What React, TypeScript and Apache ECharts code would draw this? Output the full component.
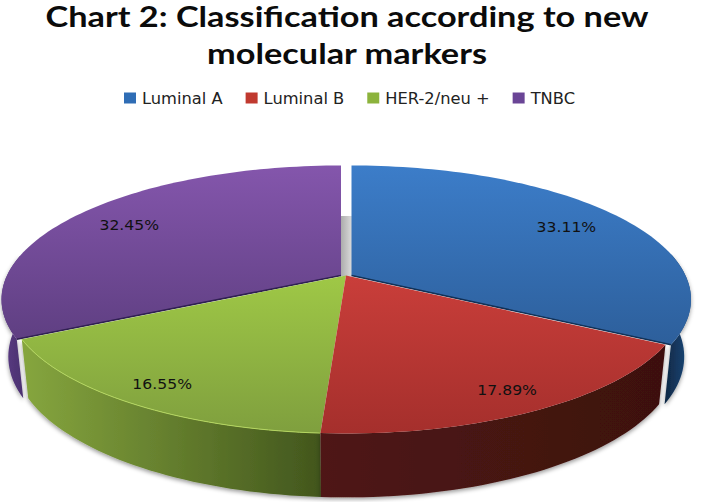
import React, { useEffect, useRef } from "react";
import * as echarts from "echarts";

const titleLines = ["Chart 2: Classification according to new", "molecular markers"];
const categories = ["Luminal A", "Luminal B", "HER-2/neu +", "TNBC"];
const shareValues = [33.11, 17.89, 16.55, 32.45];

const legendColors = ["#2f6db5", "#c0392f", "#8cb33c", "#6a4596"];
const topColors = [
  ["#3c7dc9", "#2d5f9b"],
  ["#c93e3a", "#a52f2c"],
  ["#9fc846", "#7f9f3e"],
  ["#8456ac", "#5f3f82"],
];
const wallColors = [
  ["#1d4a7e", "#0e2743"],
  ["#4f1614", "#3d110f"],
  ["#86a63e", "#42561d"],
  ["#5a3c84", "#49306d"],
];
const edgeColors = ["#123055", "#7e2320", "#b4d65f", "#2f2050"];
const explode = [5.5, 0, 0, -5];

const CX = 346, CY = 275.5, RX = 334, RY = 129.7, K = 0.179;
const WALL_X = 0.98, WALL_Y = 1.05, WALL_D = 56;

function project(thetaDeg: number, r = 1): [number, number] {
  const t = (thetaDeg * Math.PI) / 180;
  const u = r * Math.sin(t);
  const v = -r * Math.cos(t);
  const d = 1 - K * v;
  return [(RX * u) / d, (RY * v) / d];
}
function arc(a: number, b: number): number[] {
  const out: number[] = [];
  const n = Math.max(2, Math.ceil(Math.abs(b - a) / 1.5));
  for (let i = 0; i <= n; i++) out.push(a + ((b - a) * i) / n);
  return out;
}
const total = shareValues.reduce((s, v) => s + v, 0);
const starts = shareValues.map((_, i) =>
  (shareValues.slice(0, i).reduce((s, v) => s + v, 0) / total) * 360
);

function renderSlice(i: number) {
  const start = starts[i];
  const end = start + (shareValues[i] / total) * 360;
  const cx = CX + explode[i];
  const top = (p: [number, number]): number[] => [cx + p[0], CY + p[1]];
  const bottom = (p: [number, number]): number[] => [
    cx + WALL_X * p[0],
    CY + WALL_D + WALL_Y * p[1],
  ];
  const ring = arc(start, end);
  const topEdge = ring.map((a) => top(project(a)));
  const wallAngles = ring.filter((a) => a >= 80 && a <= 280);
  const children: any[] = [];
  if (i === 3) {
    const back = bottom(project(0));
    children.push({
      type: "polygon",
      shape: { points: [[CX - 6, back[1]], [CX + 6, back[1]], [CX + 6, CY + 1], [CX - 6, CY + 1]] },
      style: {
        fill: new echarts.graphic.LinearGradient(0, 0, 1, 0, [
          { offset: 0, color: "#a8a8a8" },
          { offset: 0.55, color: "#c4c4c4" },
          { offset: 1, color: "#dcdcdc" },
        ]),
      },
    });
  }
  if (wallAngles.length > 1) {
    const pts = [
      ...wallAngles.map((a) => top(project(a))),
      ...wallAngles.slice().reverse().map((a) => bottom(project(a))),
    ];
    children.push({
      type: "polygon",
      shape: { points: pts },
      style: {
        fill: new echarts.graphic.LinearGradient(0, 0, 1, 0, [
          { offset: 0, color: i === 0 ? wallColors[i][1] : wallColors[i][0] },
          { offset: 1, color: i === 0 ? wallColors[i][0] : wallColors[i][1] },
        ]),
        shadowBlur: 4,
        shadowColor: "rgba(0,0,0,0.4)",
        shadowOffsetY: 2,
      },
    });
  }
  const apex = [cx, CY];
  children.push({
    type: "polygon",
    shape: { points: [apex, ...topEdge] },
    style: {
      fill: new echarts.graphic.LinearGradient(0, 0, 0, 1, [
        { offset: 0, color: topColors[i][0] },
        { offset: 1, color: topColors[i][1] },
      ]),
    },
  });
  if (i === 0 || i === 3) {
    const tip = i === 0 ? topEdge[topEdge.length - 1] : topEdge[0];
    children.push({
      type: "line",
      shape: { x1: apex[0], y1: apex[1], x2: tip[0], y2: tip[1] },
      style: { stroke: edgeColors[i], lineWidth: 1.6 },
    });
  }
  if (i === 2) {
    children.push({
      type: "polyline",
      shape: { points: topEdge },
      style: { stroke: edgeColors[i], lineWidth: 1, fill: "none" },
    });
  }
  const mid = (start + end) / 2;
  const front = -Math.cos((mid * Math.PI) / 180) > 0;
  const lp = top(project(mid, front ? 0.87 : 0.8));
  children.push({
    type: "text",
    x: lp[0],
    y: lp[1],
    scaleX: 1.16,
    style: {
      text: shareValues[i].toFixed(2) + "%",
      fontFamily: "DejaVu Sans",
      fontSize: 13.5,
      fill: "#111",
      align: "center",
      verticalAlign: "middle",
    },
  });
  return { type: "group", children };
}

export default function App() {
  const ref = useRef<HTMLDivElement>(null);
  useEffect(() => {
    const chart = echarts.init(ref.current!, undefined, { renderer: "svg" });
    const order = [3, 0, 2, 1];
    const titleRows = [16, 53];
    chart.setOption({
      animation: false,
      backgroundColor: "#fff",
      graphic: titleLines.map((line, idx) => ({
        type: "text",
        x: 347,
        y: titleRows[idx],
        scaleX: 1.183,
        style: {
          text: line,
          fontFamily: "Lato",
          fontWeight: "bold",
          fontSize: 29,
          fill: "#0b0b0b",
          align: "center",
          verticalAlign: "middle",
        },
      })),
      legend: {
        top: 85,
        left: 119,
        itemWidth: 12,
        itemHeight: 11,
        itemGap: 23,
        icon: "rect",
        data: categories,
        textStyle: { fontFamily: "DejaVu Sans", fontSize: 16.3, color: "#222", padding: [0, 0, 0, 1] },
      },
      series: order.map((i) => ({
        type: "custom",
        name: categories[i],
        coordinateSystem: "none",
        silent: true,
        itemStyle: { color: legendColors[i] },
        data: [[shareValues[i]]],
        renderItem: () => renderSlice(i),
      })),
    });
    return () => chart.dispose();
  }, []);
  return (
    <div
      ref={ref}
      style={{ position: "absolute", left: 0, top: 0, width: 705, height: 502 }}
    />
  );
}
